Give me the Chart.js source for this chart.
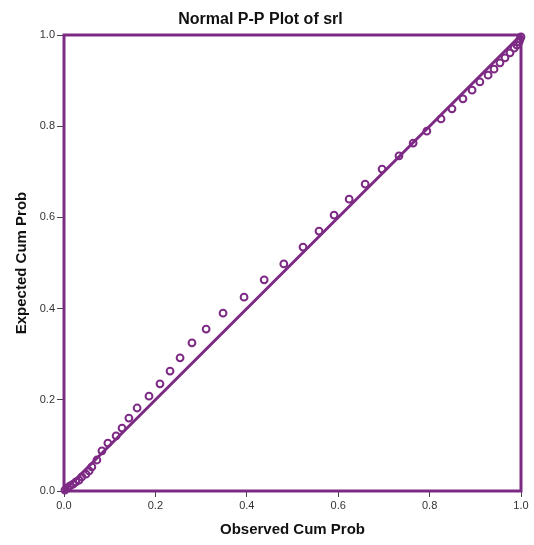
<!DOCTYPE html>
<html>
<head>
<meta charset="utf-8">
<title>Normal P-P Plot of srl</title>
<script src="https://cdn.jsdelivr.net/npm/chart.js@4.4.0/dist/chart.umd.min.js"></script>
<style>
  html, body { margin: 0; padding: 0; background: #fff; }
</style>
</head>
<body>
<canvas id="pp" width="534" height="545"></canvas>
<script>
// observed vs expected cumulative probabilities
const observedCumProb = [
  0.002, 0.007, 0.013, 0.020, 0.026, 0.033, 0.039, 0.048, 0.055, 0.061,
  0.072, 0.083, 0.096, 0.114, 0.127, 0.142, 0.160, 0.186, 0.210, 0.232,
  0.254, 0.280, 0.311, 0.348, 0.394, 0.438, 0.481, 0.523, 0.558, 0.591,
  0.624, 0.659, 0.696, 0.733, 0.764, 0.794, 0.825, 0.849, 0.873, 0.893,
  0.910, 0.928, 0.941, 0.954, 0.965, 0.976, 0.985, 0.991, 0.996, 0.998,
  1.000
];
const expectedCumProb = [
  0.002, 0.007, 0.011, 0.015, 0.020, 0.024, 0.031, 0.037, 0.044, 0.053,
  0.068, 0.088, 0.105, 0.121, 0.138, 0.160, 0.182, 0.208, 0.235, 0.263,
  0.292, 0.325, 0.355, 0.390, 0.425, 0.463, 0.498, 0.535, 0.570, 0.605,
  0.640, 0.673, 0.706, 0.735, 0.763, 0.789, 0.816, 0.838, 0.860, 0.879,
  0.897, 0.912, 0.925, 0.939, 0.950, 0.961, 0.971, 0.978, 0.985, 0.991,
  0.996
];
// reference line y = x
const diagonal = [0, 1];

const tickValues = [0, 0.2, 0.4, 0.6, 0.8, 1.0];
const tickLabels = ['0.0', '0.2', '0.4', '0.6', '0.8', '1.0'];

const purple = '#7d2a85';
const font = 'Arial, "Liberation Sans", sans-serif';

// purple box round the plot area
const framePlugin = {
  id: 'frame',
  beforeDatasetsDraw(chart) {
    const { ctx, chartArea: a } = chart;
    ctx.save();
    ctx.strokeStyle = purple;
    ctx.lineWidth = 3;
    ctx.strokeRect(a.left, a.top, a.right - a.left, a.bottom - a.top);
    ctx.restore();
  }
};

function axis(titleText, extra) {
  return Object.assign({
    type: 'linear',
    min: 0,
    max: 1,
    afterBuildTicks: s => { s.ticks = tickValues.map(v => ({ value: v })); },
    ticks: {
      color: '#333',
      font: { family: font, size: 11 },
      padding: 2,
      callback: (v, i) => tickLabels[i]
    },
    grid: {
      display: true,
      drawOnChartArea: false,
      drawTicks: true,
      tickLength: 6,
      color: '#444',
      lineWidth: 1
    },
    border: { display: false },
    title: {
      display: true,
      text: titleText,
      color: '#111',
      font: { family: font, size: 15, weight: 'bold' }
    }
  }, extra);
}

const xScale = axis('Observed Cum Prob', {
  position: 'bottom',
  afterFit: s => { s.height = 54; }
});
xScale.title.padding = { top: 0, bottom: 6 };

const yScale = axis('Expected Cum Prob', {
  position: 'left',
  afterFit: s => { s.width = 64; }
});
yScale.title.padding = { top: 13, bottom: 0 };
yScale.grid.tickLength = 7;

new Chart(document.getElementById('pp'), {
  type: 'scatter',
  data: {
    datasets: [
      {
        type: 'line',
        data: diagonal.map(v => ({ x: v, y: v })),
        borderColor: purple,
        borderWidth: 3,
        pointRadius: 0,
        clip: false,
        order: 2
      },
      {
        data: observedCumProb.map((x, i) => ({ x, y: expectedCumProb[i] })),
        pointStyle: 'circle',
        pointRadius: 3.4,
        borderWidth: 2,
        borderColor: purple,
        backgroundColor: 'rgba(0,0,0,0)',
        clip: false,
        order: 1
      }
    ]
  },
  options: {
    responsive: false,
    animation: false,
    devicePixelRatio: 1,
    layout: { padding: { left: 0, right: 13, top: 0, bottom: 0 } },
    plugins: {
      legend: { display: false },
      tooltip: { enabled: false },
      title: {
        display: true,
        text: 'Normal P-P Plot of srl',
        color: '#111',
        font: { family: font, size: 16, weight: 'bold', lineHeight: '20px' },
        padding: { top: 10, bottom: 5 }
      }
    },
    scales: { x: xScale, y: yScale }
  },
  plugins: [framePlugin]
});
</script>
</body>
</html>
